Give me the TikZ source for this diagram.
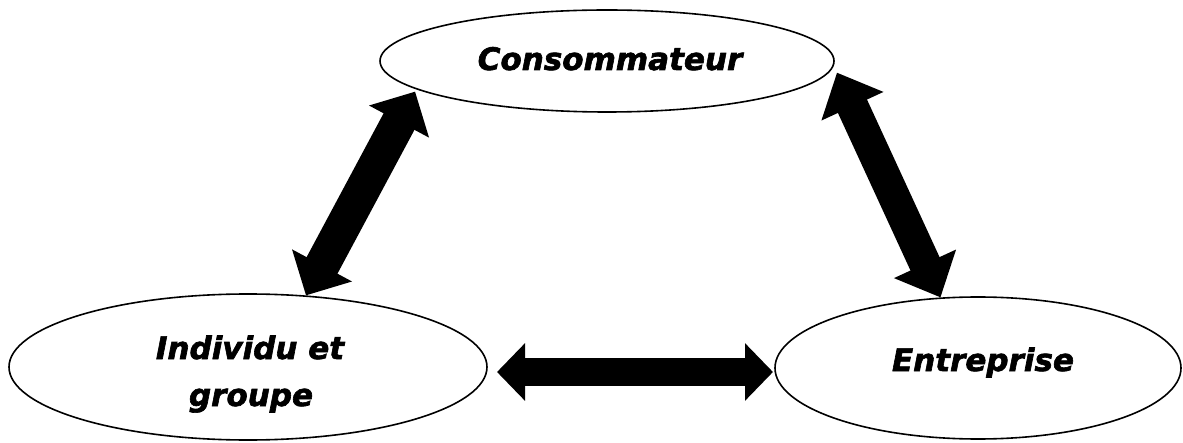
\documentclass[tikz,border=0pt]{standalone}
\usepackage{fontspec}
\setmainfont{DejaVu Sans}
\newfontfamily\heavyfont{DejaVu Sans}[BoldItalicFeatures={FakeBold=2}]
\usetikzlibrary{shapes.geometric,arrows.meta}
\begin{document}
\begin{tikzpicture}[x=1pt,y=1pt,
  oval/.style={ellipse,draw=black,line width=1.6pt,fill=white,inner sep=0pt},
  lbl/.style={anchor=base,inner sep=0pt,font=\heavyfont\fontsize{31}{48}\selectfont\bfseries\itshape},
  leftarrow/.style={line width=35pt,{Triangle[length=34pt,width=66pt]}-{Triangle[length=34pt,width=66pt]}},
  rightarrow/.style={line width=32pt,{Triangle[length=37pt,width=66pt]}-{Triangle[length=37pt,width=66pt]}},
  horarrow/.style={line width=28pt,{Triangle[length=28pt,width=56pt]}-{Triangle[length=28pt,width=56pt]}}]
\useasboundingbox (0,0) rectangle (1183,442);
\node[oval,minimum width=454pt,minimum height=102pt] (top) at (607,381) {};
\node[oval,minimum width=478pt,minimum height=146pt] (left) at (248,75) {};
\node[oval,minimum width=406pt,minimum height=142pt] (right) at (978,74) {};
\node[lbl] (toptext) at (610,372) {Consommateur};
\node[lbl] (lefttext1) at (250,83) {Individu et};
\node[lbl] (lefttext2) at (251,36) {groupe};
\node[lbl] (righttext) at (983,71) {Entreprise};
\coordinate (hl) at (497,70);
\coordinate (hr) at (773,70);
\draw[leftarrow] ([shift={(-5pt,-1pt)}]top.189) -- (left.51);
\draw[rightarrow] ([shift={(8pt,0pt)}]top.-3) -- (right.118);
\draw[horarrow] (hl) -- (hr);
\end{tikzpicture}
\end{document}
